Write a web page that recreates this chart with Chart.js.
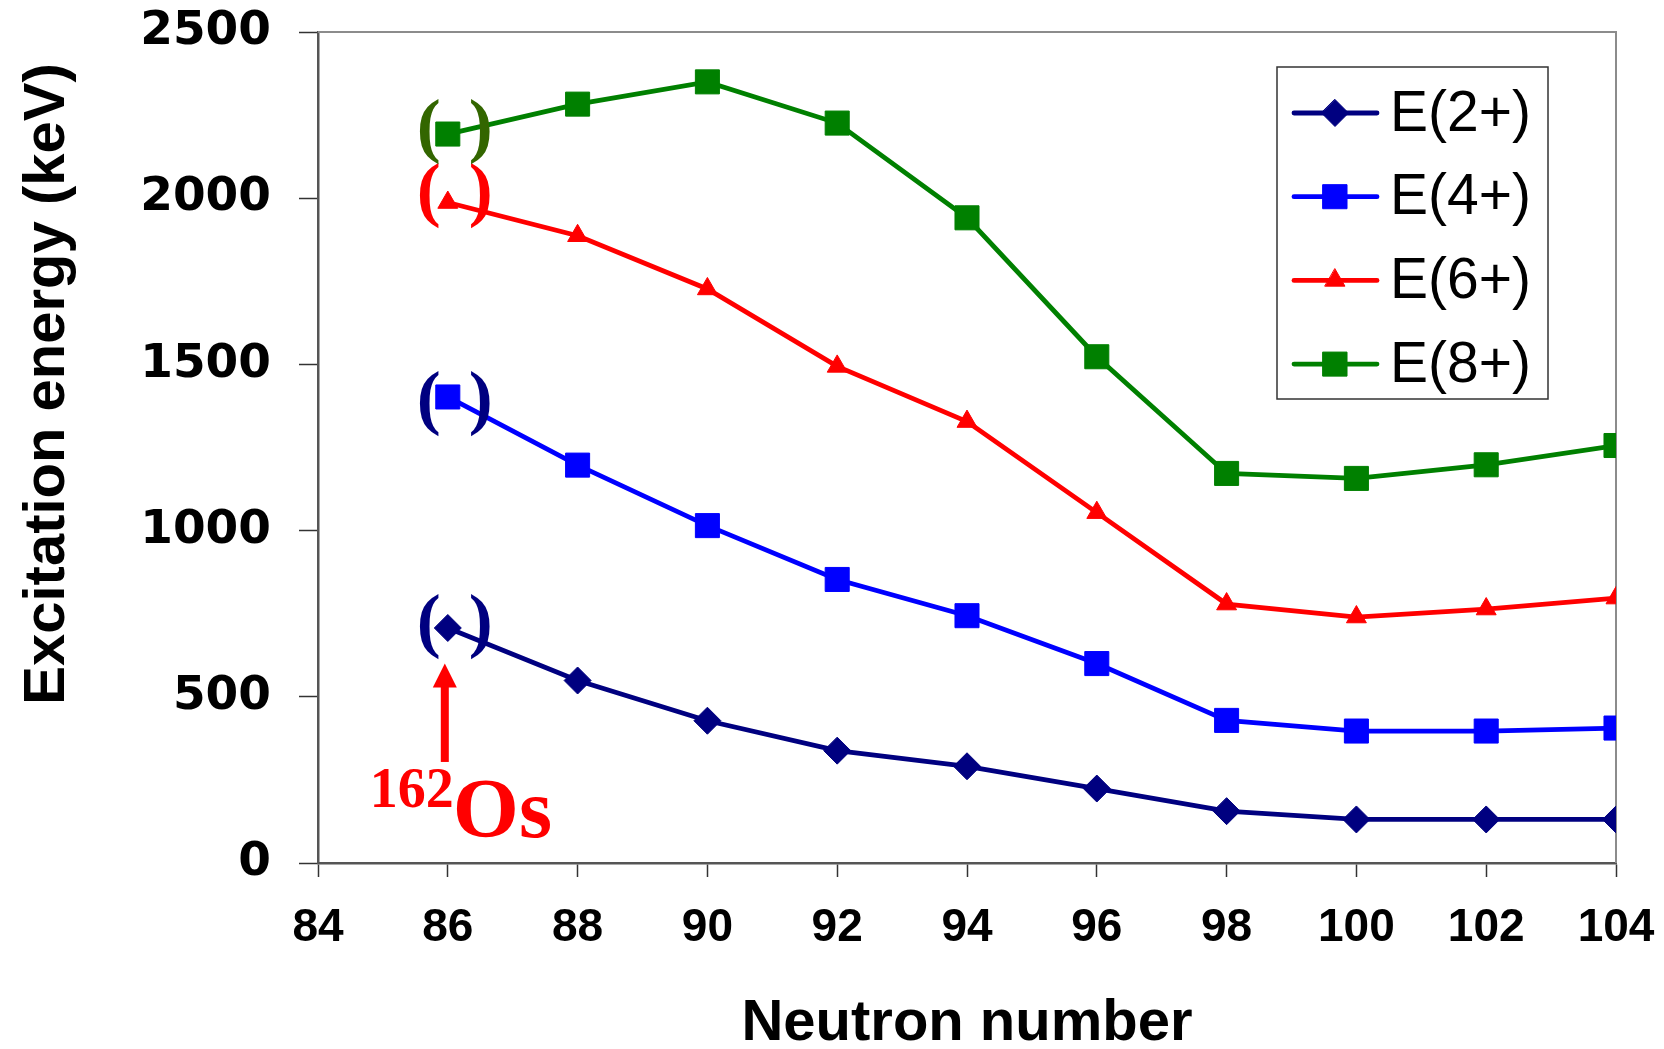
<!DOCTYPE html>
<html>
<head>
<meta charset="utf-8">
<script src="https://cdn.jsdelivr.net/npm/chart.js@4.4.0/dist/chart.umd.min.js"></script>
<style>
  html, body { margin: 0; padding: 0; background: #fff; }
  #wrap { width: 1664px; height: 1049px; }
</style>
</head>
<body>
<div id="wrap"><canvas id="chart" width="1664" height="1049"></canvas></div>
<script>
// values (keV)
const neutrons = [86, 88, 90, 92, 94, 96, 98, 100, 102, 104];
const e2 = [707, 549, 428, 338, 291, 224, 156, 131, 131, 131];
const e4 = [1402, 1197, 1015, 853, 744, 600, 429, 397, 397, 406];
const e6 = [1987, 1887, 1727, 1494, 1328, 1054, 779, 740, 764, 797];
const e8 = [2193, 2283, 2350, 2226, 1941, 1523, 1172, 1157, 1198, 1256];
const seriesLabels = ['E(2+)', 'E(4+)', 'E(6+)', 'E(8+)'];
const xTicks = [84, 86, 88, 90, 92, 94, 96, 98, 100, 102, 104];
const yTicks = [0, 500, 1000, 1500, 2000, 2500];

// 162Os arrow: from this energy up to the tip
const arrowFrom = 304;
const arrowTo = 600;

const SANS = "'Liberation Sans', Arial, sans-serif";
const SERIF = "'Liberation Serif', 'Times New Roman', serif";

const styles = [
  { color: '#000080', point: 'rectRot', r: 13.5, paren: '#000080', dy: -3 },
  { color: '#0000FF', point: 'rect', r: 17, paren: '#000080', dy: 5 },
  { color: '#FF0000', point: 'triangle', r: 11.5, paren: '#FF0000', dy: -8 },
  { color: '#008000', point: 'rect', r: 17, paren: '#336600', dy: -4 },
];

function toPoints(vals) {
  return neutrons.map((n, i) => ({ x: n, y: vals[i] }));
}

const datasets = [e2, e4, e6, e8].map((vals, i) => ({
  label: seriesLabels[i],
  data: toPoints(vals),
  borderColor: styles[i].color,
  backgroundColor: styles[i].color,
  pointBorderColor: styles[i].color,
  pointBackgroundColor: styles[i].color,
  pointStyle: styles[i].point,
  pointRadius: styles[i].r,
  pointHoverRadius: styles[i].r,
  pointBorderWidth: 1,
  borderWidth: 4.8,
  tension: 0,
}));

function drawMarker(ctx, style, r, x, y) {
  ctx.beginPath();
  if (style === 'rectRot') {
    ctx.moveTo(x, y - r); ctx.lineTo(x + r, y); ctx.lineTo(x, y + r); ctx.lineTo(x - r, y);
  } else if (style === 'rect') {
    const s = r * Math.SQRT1_2;
    ctx.rect(x - s, y - s, 2 * s, 2 * s);
  } else {
    ctx.moveTo(x, y - r); ctx.lineTo(x + r * 0.866, y + r / 2); ctx.lineTo(x - r * 0.866, y + r / 2);
  }
  ctx.closePath();
  ctx.fill();
  ctx.stroke();
}

// light frame on top / right of the plot
const framePlugin = {
  id: 'frame',
  beforeDatasetsDraw(chart) {
    const { ctx, chartArea: a } = chart;
    ctx.save();
    ctx.strokeStyle = '#8c8c8c';
    ctx.lineWidth = 2;
    ctx.beginPath();
    ctx.moveTo(a.left, a.top);
    ctx.lineTo(a.right, a.top);
    ctx.lineTo(a.right, a.bottom);
    ctx.stroke();
    ctx.restore();
  }
};

// brackets round the tentative 162Os points, arrow and label
const notePlugin = {
  id: 'notes',
  afterDatasetsDraw(chart) {
    const { ctx } = chart;
    const xs = chart.scales.x, ys = chart.scales.y;
    ctx.save();
    ctx.font = 'bold 72px ' + SERIF;
    ctx.textAlign = 'center';
    ctx.textBaseline = 'middle';
    chart.data.datasets.forEach((ds, i) => {
      const p = ds.data[0];
      const px = xs.getPixelForValue(p.x);
      const py = ys.getPixelForValue(p.y) + styles[i].dy;
      ctx.fillStyle = styles[i].paren;
      ctx.fillText('(', px - 19, py);
      ctx.fillText(')', px + 33, py);
    });

    const ax = xs.getPixelForValue(neutrons[0]) - 3;
    const y0 = ys.getPixelForValue(arrowFrom);
    const y1 = ys.getPixelForValue(arrowTo);
    ctx.fillStyle = '#FF0000';
    ctx.fillRect(ax - 4, y1 + 20, 8, y0 - y1 - 20);
    ctx.beginPath();
    ctx.moveTo(ax, y1);
    ctx.lineTo(ax + 12, y1 + 24);
    ctx.lineTo(ax - 12, y1 + 24);
    ctx.closePath();
    ctx.fill();

    ctx.textAlign = 'left';
    ctx.textBaseline = 'alphabetic';
    ctx.font = 'bold 56px ' + SERIF;
    ctx.fillText('162', ax - 75, y0 + 45);
    ctx.font = 'bold 85px ' + SERIF;
    ctx.fillText('Os', ax + 8, y0 + 75);
    ctx.restore();
  }
};

const legendPlugin = {
  id: 'boxLegend',
  afterDraw(chart) {
    const { ctx } = chart;
    const bx = 1277, by = 67, bw = 271, bh = 332;
    ctx.save();
    ctx.fillStyle = '#fff';
    ctx.fillRect(bx, by, bw, bh);
    ctx.strokeStyle = '#333';
    ctx.lineWidth = 1.5;
    ctx.strokeRect(bx, by, bw, bh);
    ctx.font = '57px ' + SANS;
    ctx.textBaseline = 'middle';
    ctx.textAlign = 'left';
    chart.data.datasets.forEach((ds, i) => {
      const cy = by + 46 + i * 83.7;
      ctx.strokeStyle = styles[i].color;
      ctx.fillStyle = styles[i].color;
      ctx.lineWidth = 4.8;
      ctx.lineCap = 'round';
      ctx.beginPath();
      ctx.moveTo(bx + 17, cy);
      ctx.lineTo(bx + 100, cy);
      ctx.stroke();
      ctx.lineWidth = 1;
      drawMarker(ctx, styles[i].point, styles[i].r, bx + 58, cy);
      ctx.fillStyle = '#000';
      ctx.fillText(ds.label, bx + 113, cy + 2);
    });

    // y axis title
    ctx.translate(48, 384);
    ctx.rotate(-Math.PI / 2);
    ctx.font = 'bold 58px ' + SANS;
    ctx.textAlign = 'center';
    ctx.fillStyle = '#000';
    ctx.fillText('Excitation energy (keV)', 0, 0);
    ctx.restore();
  }
};

new Chart(document.getElementById('chart'), {
  type: 'line',
  data: { datasets },
  options: {
    responsive: false,
    animation: false,
    devicePixelRatio: 1,
    layout: { padding: { top: 32, right: 48, left: 0, bottom: 0 } },
    plugins: {
      legend: { display: false },
      tooltip: { enabled: false },
    },
    scales: {
      x: {
        type: 'linear',
        min: 84,
        max: 104,
        afterBuildTicks: axis => { axis.ticks = xTicks.map(v => ({ value: v })); },
        afterFit: s => { s.height = 186; s.paddingLeft = 0; s.paddingRight = 0; },
        ticks: {
          autoSkip: false,
          maxRotation: 0,
          padding: 24,
          color: '#000',
          font: { family: "'Liberation Sans Narrow', 'Arial Narrow', " + SANS, weight: 'bold', size: 46 },
        },
        grid: { drawOnChartArea: false, tickLength: 14, tickColor: '#333', tickWidth: 1.5 },
        border: { color: '#555', width: 2.5 },
        title: {
          display: true,
          text: 'Neutron number',
          color: '#000',
          font: { family: SANS, weight: 'bold', size: 58, lineHeight: 1 },
          padding: { top: 0, bottom: -4 },
        },
      },
      y: {
        min: 0,
        max: 2500,
        afterBuildTicks: axis => { axis.ticks = yTicks.map(v => ({ value: v })); },
        afterFit: s => { s.width = 318; s.paddingTop = 0; s.paddingBottom = 0; },
        ticks: {
          padding: 28,
          color: '#000',
          callback: v => String(v),
          font: { family: "'DejaVu Sans', " + SANS, weight: 'bold', size: 47 },
        },
        grid: { drawOnChartArea: false, tickLength: 19, tickColor: '#333', tickWidth: 1.5 },
        border: { color: '#555', width: 2.5 },
      },
    },
  },
  plugins: [framePlugin, notePlugin, legendPlugin],
});
</script>
</body>
</html>
